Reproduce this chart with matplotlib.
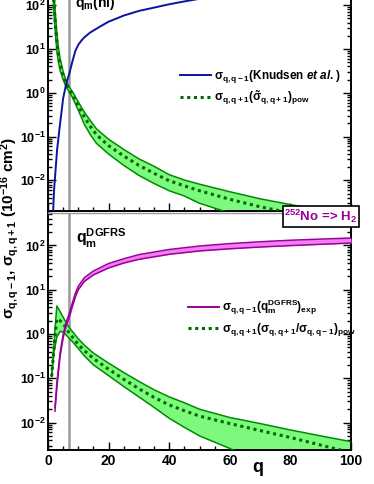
import matplotlib
matplotlib.use("Agg")
import numpy as np
import matplotlib.pyplot as plt
from matplotlib.ticker import MultipleLocator, LogLocator, FuncFormatter, NullFormatter
from matplotlib.lines import Line2D

plt.rcParams.update({
    "font.family": "Liberation Sans",
    "font.weight": "bold",
    "mathtext.fontset": "custom",
    "mathtext.rm": "Liberation Sans",
    "mathtext.it": "Liberation Sans:italic",
    "mathtext.bf": "Liberation Sans:bold",
    "mathtext.default": "bf",
})

# ---- data ----
q_m = 7

# top panel: Knudsen et al.
q_knud = [1.7, 2, 3, 4, 5, 6, 7, 8, 9, 10, 11, 12, 14, 17, 20, 25, 30, 35, 40, 45, 50, 55]
s_knud = [0.002, 0.006, 0.05, 0.2, 0.75, 1.6, 2.7, 5, 9, 12.5, 15.5, 18.5, 24, 32, 42, 58,
          74, 88, 105, 122, 140, 160]

# top panel: power-law sigma_{q,q+1} band
q_pow_top = [1.5, 2, 2.5, 3, 3.5, 4, 5, 6, 7, 8, 10, 12, 14, 16, 20, 25, 30, 35, 40, 45,
             50, 60, 70, 80, 90, 100]
s_pow_top = [400, 100, 32, 13, 7, 4.5, 2.5, 1.6, 1.2, 0.93, 0.5, 0.28, 0.17, 0.11, 0.062,
             0.036, 0.022, 0.0145, 0.0098, 0.0075, 0.0058, 0.0037, 0.0025, 0.0018, 0.0013,
             0.001]
s_pow_top_hi = [600, 180, 55, 20, 10, 6, 3.0, 1.85, 1.35, 1.08, 0.62, 0.36, 0.23, 0.15,
                0.087, 0.051, 0.031, 0.021, 0.0135, 0.0102, 0.0082, 0.0055, 0.0038, 0.0028,
                0.0021, 0.0016]
s_pow_top_lo = [250, 60, 20, 8, 4.8, 3.2, 2.0, 1.35, 1.05, 0.8, 0.4, 0.19, 0.11, 0.07,
                0.04, 0.022, 0.013, 0.0085, 0.0058, 0.0044, 0.003, 0.0018, 0.0012, 0.0009,
                0.0006, 0.0004]

# bottom panel: experimental sigma_{q,q-1} band
q_exp = [2.3, 3, 4, 5, 6, 7, 8, 9, 10, 12, 15, 20, 25, 30, 40, 50, 60, 70, 80, 90, 100]
s_exp_hi = [0.022, 0.088, 0.38, 0.98, 1.85, 2.85, 4.9, 8.2, 12, 18.7, 26.5, 39, 50, 62,
            81, 97, 110, 121, 131, 139, 147]
s_exp_lo = [0.018, 0.072, 0.32, 0.82, 1.55, 2.35, 4.1, 6.8, 10, 15.4, 21.6, 31, 40, 48.5,
            63, 75, 84, 92, 99, 106, 113]

# bottom panel: power-law ratio sigma_{q,q+1} band
q_pow_bot = [1.2, 2, 2.9, 4, 5, 6, 7, 8, 10, 12, 15, 20, 25, 30, 35, 40, 45, 50, 60, 70,
             80, 90, 100]
s_pow_bot = [0.11, 0.5, 2.2, 2.0, 1.7, 1.35, 1.05, 0.87, 0.58, 0.42, 0.28, 0.16, 0.095,
             0.058, 0.037, 0.025, 0.0185, 0.014, 0.0095, 0.0066, 0.0046, 0.0031, 0.0021]
s_pow_bot_hi = [0.11, 0.62, 4.3, 3.2, 2.4, 1.8, 1.4, 1.15, 0.78, 0.56, 0.37, 0.22, 0.135,
                0.085, 0.055, 0.038, 0.028, 0.02, 0.013, 0.0095, 0.0068, 0.005, 0.0037]
s_pow_bot_lo = [0.11, 0.4, 0.85, 1.15, 1.1, 0.95, 0.8, 0.68, 0.47, 0.32, 0.2, 0.115, 0.065,
                0.038, 0.022, 0.0125, 0.0078, 0.005, 0.0026, 0.0014, 0.0008, 0.0005,
                0.0003]

# ---- styles ----
blue = "#0a14a0"
green_line = "#008a00"
green_fill = "#7dfa7d"
dot_green = "#006a00"
purple = "#9a009a"
pink = "#f27ef2"
grey = "#999999"
dots = (0, (1, 1.2))

W, H = 374, 484
fig = plt.figure(figsize=(W / 100, H / 100), dpi=100)

left = 48 / W
width = (351 - 48) / W
# bottom panel: y px 213..450, top panel: y px -39..211 (clipped at figure top)
ax2 = fig.add_axes([left, (H - 450) / H, width, (450 - 213) / H])
ax1 = fig.add_axes([left, (H - 211) / H, width, (211 + 38.6) / H])


def log_fmt(v, pos):
    e = int(round(np.log10(v)))
    return r"$10^{%d}$" % e


for ax in (ax1, ax2):
    ax.set_yscale("log")
    ax.set_xlim(0, 100)
    ax.xaxis.set_major_locator(MultipleLocator(20))
    ax.xaxis.set_minor_locator(MultipleLocator(5))
    ax.yaxis.set_major_locator(LogLocator(base=10, numticks=20))
    ax.yaxis.set_minor_locator(LogLocator(base=10, subs=np.arange(2, 10), numticks=20))
    ax.yaxis.set_major_formatter(FuncFormatter(log_fmt))
    ax.yaxis.set_minor_formatter(NullFormatter())
    ax.tick_params(which="both", direction="in", right=True, width=1.0)
    ax.tick_params(axis="y", labelsize=9, pad=1.5)
    ax.tick_params(axis="x", labelsize=10, pad=3)
    ax.tick_params(which="major", length=6)
    ax.tick_params(which="minor", length=3)
    for sp in ax.spines.values():
        sp.set_linewidth(1.4)
    ax.axvline(q_m, color=grey, lw=1.8, zorder=1)

# top panel
ax1.set_ylim(0.002, 1000)
ax1.fill_between(q_pow_top, s_pow_top_lo, s_pow_top_hi, color=green_fill, lw=0, zorder=2)
ax1.plot(q_pow_top, s_pow_top_hi, color=green_line, lw=1.1, zorder=3)
ax1.plot(q_pow_top, s_pow_top_lo, color=green_line, lw=1.1, zorder=3)
ax1.plot(q_pow_top, s_pow_top, color=dot_green, lw=2.2, ls=dots, zorder=4)
ax1.plot(q_knud, s_knud, color=blue, lw=1.4, zorder=5)
ax1.tick_params(axis="x", labelbottom=False)
ax1.text(8.9, 110, r"$\mathbf{q_m(nl)}$", fontsize=10, va="center", ha="left")

h1 = [Line2D([], [], color=blue, lw=1.4),
      Line2D([], [], color=dot_green, lw=2.2, ls=dots)]
l1 = [r"$\mathrm{\sigma}_{q,q-1}$(Knudsen $\mathit{et\ al.}$)",
      r"$\mathrm{\sigma}_{q,q+1}(\tilde{\mathrm{\sigma}}_{q,q+1})_{pow}$"]
ax1.legend(h1, l1, loc="upper left", bbox_to_anchor=(0.436, 0.573), frameon=False,
           fontsize=8.5, handlelength=2.6, handletextpad=0.3, labelspacing=0.3,
           borderpad=0, borderaxespad=0)

# bottom panel
ax2.set_ylim(0.0024, 540)
ax2.spines["top"].set_color(grey)
ax2.spines["top"].set_linewidth(1.0)
ax2.fill_between(q_pow_bot, s_pow_bot_lo, s_pow_bot_hi, color=green_fill, lw=0, zorder=2)
ax2.plot(q_pow_bot, s_pow_bot_hi, color=green_line, lw=1.1, zorder=3)
ax2.plot(q_pow_bot, s_pow_bot_lo, color=green_line, lw=1.1, zorder=3)
ax2.plot(q_pow_bot, s_pow_bot, color=dot_green, lw=2.2, ls=dots, zorder=4)
ax2.fill_between(q_exp, s_exp_lo, s_exp_hi, color=pink, lw=0, zorder=5)
ax2.plot(q_exp, s_exp_hi, color=purple, lw=1.1, zorder=6)
ax2.plot(q_exp, s_exp_lo, color=purple, lw=1.1, zorder=6)
ax2.text(9.2, 147, r"$\mathbf{q}_{\mathbf{m}}^{\mathbf{DGFRS}}$", fontsize=11.5,
         va="center", ha="left")

h2 = [Line2D([], [], color=purple, lw=1.4),
      Line2D([], [], color=dot_green, lw=2.2, ls=dots)]
l2 = [r"$\mathrm{\sigma}_{q,q-1}(q_m^{DGFRS})_{exp}$",
      r"$\mathrm{\sigma}_{q,q+1}(\mathrm{\sigma}_{q,q+1}/\mathrm{\sigma}_{q,q-1})_{pow}$"]
ax2.legend(h2, l2, loc="upper left", bbox_to_anchor=(0.462, 0.641), frameon=False,
           fontsize=8.5, handlelength=2.6, handletextpad=0.3, labelspacing=0.3,
           borderpad=0, borderaxespad=0)

# axis labels and reaction box
fig.text(258 / W, (H - 467) / H, "q", fontsize=13, ha="center", va="center")
fig.text(10 / W, (H - 228) / H,
         r"$\mathrm{\sigma}_{q,q-1}$, $\mathrm{\sigma}_{q,q+1}$ (10$^{-16}$ cm$^{2}$)",
         rotation=90, ha="center", va="center", fontsize=11)
fig.text(321 / W, (H - 216.5) / H, r"$^{252}$No => H$_{2}$", color=purple,
         fontsize=9.5, ha="center", va="center", zorder=10,
         bbox=dict(boxstyle="square,pad=0.12", fc="white", ec="black", lw=1.2))

fig.savefig("out.png", dpi=100)
